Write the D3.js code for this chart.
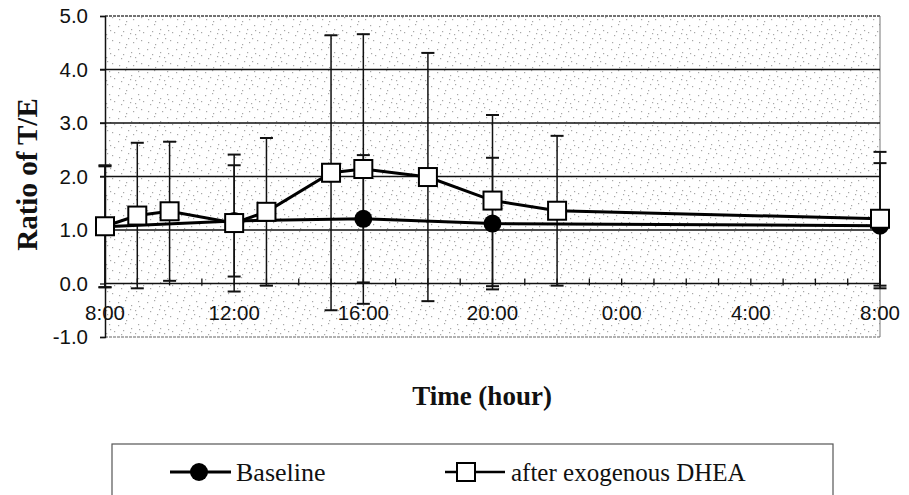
<!DOCTYPE html>
<html>
<head>
<meta charset="utf-8">
<script src="https://cdn.jsdelivr.net/npm/d3@7"></script>
<style>
  html, body { margin: 0; padding: 0; background: #ffffff; }
  svg { display: block; }
</style>
</head>
<body>
<svg id="chart" width="909" height="495"></svg>
<script>
// ---- data ----
const baselineHours = [8, 12, 16, 20, 32];
const baselineMean  = [1.06, 1.17, 1.21, 1.12, 1.08];
const baselineSD    = [1.13, 1.04, 1.19, 1.23, 1.17];

const dheaHours = [8, 9, 10, 12, 13, 15, 16, 18, 20, 22, 32];
const dheaMean  = [1.07, 1.27, 1.35, 1.13, 1.34, 2.07, 2.14, 1.99, 1.55, 1.36, 1.21];
const dheaSD    = [1.14, 1.36, 1.30, 1.28, 1.38, 2.57, 2.52, 2.32, 1.60, 1.40, 1.25];

const xTickHours  = [8, 12, 16, 20, 24, 28, 32];
const xTickLabels = ["8:00", "12:00", "16:00", "20:00", "0:00", "4:00", "8:00"];
const minorHours  = d3.range(8, 33, 1);
const yTicks      = [-1, 0, 1, 2, 3, 4, 5];
const yTickLabels = ["-1.0", "0.0", "1.0", "2.0", "3.0", "4.0", "5.0"];
const gridValues  = [1, 2, 3, 4];
const seriesNames = ["Baseline", "after exogenous DHEA"];
const yTitle = "Ratio of T/E";
const xTitle = "Time (hour)";

// ---- layout ----
const svg = d3.select("#chart");
const L = 105, R = 880, T = 16, B = 337;
const x = d3.scaleLinear().domain([8, 32]).range([L, R]);
const y = d3.scaleLinear().domain([-1, 5]).range([B, T]);

// speckle texture pattern (decorative)
const defs = svg.append("defs");
const pat = defs.append("pattern").attr("id", "speck")
  .attr("patternUnits", "userSpaceOnUse").attr("width", 29).attr("height", 23);
pat.append("rect").attr("width", 29).attr("height", 23).attr("fill", "#ffffff");
const dots = [[2,3],[9,1],[15,6],[22,2],[27,9],[5,12],[12,15],[19,11],[25,17],[3,19],[10,21],[17,19],[23,7],[7,8],[14,10],[20,15]];
pat.selectAll("rect.d").data(dots).enter().append("rect").attr("class","d")
  .attr("x", d => d[0]).attr("y", d => d[1]).attr("width", 1.2).attr("height", 1.2)
  .attr("fill", "#a8a8a8");

svg.append("rect").attr("x", L).attr("y", T).attr("width", R - L).attr("height", B - T)
  .attr("fill", "url(#speck)");

// plot border
svg.append("line").attr("x1", L).attr("x2", R).attr("y1", T).attr("y2", T)
  .attr("stroke", "#444").attr("stroke-width", 1.5).attr("stroke-dasharray", "3,1");
svg.append("line").attr("x1", L).attr("x2", R).attr("y1", B).attr("y2", B)
  .attr("stroke", "#666").attr("stroke-width", 1.2).attr("stroke-dasharray", "3,1");
svg.append("line").attr("x1", R).attr("x2", R).attr("y1", T).attr("y2", B)
  .attr("stroke", "#777").attr("stroke-width", 1);

// gridlines
svg.selectAll("line.grid").data(gridValues).enter().append("line").attr("class", "grid")
  .attr("x1", L - 5).attr("x2", R).attr("y1", d => y(d)).attr("y2", d => y(d))
  .attr("stroke", "#111").attr("stroke-width", 1.3);

// y axis
const yAxis = d3.axisLeft(y).tickValues(yTicks)
  .tickFormat((d, i) => yTickLabels[i]).tickSize(5).tickPadding(12);
const gy = svg.append("g").attr("transform", `translate(${L},0)`).call(yAxis);
gy.select(".domain").attr("stroke", "#111").attr("stroke-width", 1.5);
gy.selectAll(".tick line").attr("stroke", "#111").attr("stroke-width", 1.3);
gy.selectAll(".tick text").attr("font-family", "Arial, 'Liberation Sans', sans-serif")
  .attr("font-size", 20.5).attr("fill", "#111");

// x axis line at 0 with hourly tick marks
svg.append("line").attr("x1", L).attr("x2", R).attr("y1", y(0)).attr("y2", y(0))
  .attr("stroke", "#111").attr("stroke-width", 1.5);
svg.selectAll("line.xminor").data(minorHours).enter().append("line").attr("class", "xminor")
  .attr("x1", d => x(d)).attr("x2", d => x(d))
  .attr("y1", y(0) - 5).attr("y2", y(0) + 2)
  .attr("stroke", "#111").attr("stroke-width", 1.3);
svg.selectAll("text.xlab").data(xTickHours).enter().append("text").attr("class", "xlab")
  .attr("x", d => x(d)).attr("y", y(0) + 36)
  .attr("text-anchor", "middle")
  .attr("font-family", "Arial, 'Liberation Sans', sans-serif").attr("font-size", 20.5)
  .attr("fill", "#111")
  .text((d, i) => xTickLabels[i]);

// error bars
function errBars(hours, mean, sd, cls) {
  const data = hours.map((h, i) => ({h, m: mean[i], s: sd[i]}));
  const g = svg.append("g").attr("class", cls);
  g.selectAll("line.v").data(data).enter().append("line").attr("class", "v")
    .attr("x1", d => x(d.h)).attr("x2", d => x(d.h))
    .attr("y1", d => y(d.m + d.s)).attr("y2", d => y(d.m - d.s))
    .attr("stroke", "#111").attr("stroke-width", 1.5);
  ["top", "bot"].forEach(k => {
    g.selectAll("line." + k).data(data).enter().append("line").attr("class", k)
      .attr("x1", d => x(d.h) - 6.5).attr("x2", d => x(d.h) + 6.5)
      .attr("y1", d => y(k === "top" ? d.m + d.s : d.m - d.s))
      .attr("y2", d => y(k === "top" ? d.m + d.s : d.m - d.s))
      .attr("stroke", "#111").attr("stroke-width", 2);
  });
}
errBars(baselineHours, baselineMean, baselineSD, "eb-base");
errBars(dheaHours, dheaMean, dheaSD, "eb-dhea");

// lines
const lineGen = d3.line().x(d => x(d[0])).y(d => y(d[1]));
svg.append("path").datum(baselineHours.map((h, i) => [h, baselineMean[i]]))
  .attr("d", lineGen).attr("fill", "none").attr("stroke", "#000").attr("stroke-width", 3);
svg.append("path").datum(dheaHours.map((h, i) => [h, dheaMean[i]]))
  .attr("d", lineGen).attr("fill", "none").attr("stroke", "#000").attr("stroke-width", 3);

// markers
svg.selectAll("circle.base").data(baselineHours.map((h, i) => [h, baselineMean[i]]))
  .enter().append("circle").attr("class", "base")
  .attr("cx", d => x(d[0])).attr("cy", d => y(d[1])).attr("r", 9).attr("fill", "#000");
const S = 18;
svg.selectAll("rect.dhea").data(dheaHours.map((h, i) => [h, dheaMean[i]]))
  .enter().append("rect").attr("class", "dhea")
  .attr("x", d => x(d[0]) - S / 2).attr("y", d => y(d[1]) - S / 2)
  .attr("width", S).attr("height", S)
  .attr("fill", "#fff").attr("stroke", "#000").attr("stroke-width", 2);

// axis titles
svg.append("text").attr("transform", `translate(37,${(T + B) / 2 - 2}) rotate(-90)`)
  .attr("text-anchor", "middle")
  .attr("font-family", "'Times New Roman', 'Liberation Serif', serif")
  .attr("font-weight", "bold").attr("font-size", 29).attr("fill", "#111")
  .text(yTitle);
svg.append("text").attr("x", 482).attr("y", 405).attr("text-anchor", "middle")
  .attr("font-family", "'Times New Roman', 'Liberation Serif', serif")
  .attr("font-weight", "bold").attr("font-size", 27).attr("fill", "#111")
  .text(xTitle);

// legend
const lg = svg.append("g");
lg.append("rect").attr("x", 112).attr("y", 444).attr("width", 721).attr("height", 80)
  .attr("fill", "#fff").attr("stroke", "#555").attr("stroke-width", 1.2);
const ly = 472;
// baseline entry
lg.append("line").attr("x1", 170).attr("x2", 231).attr("y1", ly).attr("y2", ly)
  .attr("stroke", "#000").attr("stroke-width", 3);
lg.append("circle").attr("cx", 199).attr("cy", ly).attr("r", 9).attr("fill", "#000");
lg.append("text").attr("x", 236).attr("y", ly + 9)
  .attr("font-family", "'Times New Roman', 'Liberation Serif', serif")
  .attr("font-size", 26).attr("fill", "#111").text(seriesNames[0]);
// dhea entry
lg.append("line").attr("x1", 445).attr("x2", 505).attr("y1", ly).attr("y2", ly)
  .attr("stroke", "#000").attr("stroke-width", 2.5);
lg.append("rect").attr("x", 466 - S / 2).attr("y", ly - S / 2).attr("width", S).attr("height", S)
  .attr("fill", "#fff").attr("stroke", "#000").attr("stroke-width", 2);
lg.append("text").attr("x", 511).attr("y", ly + 9)
  .attr("font-family", "'Times New Roman', 'Liberation Serif', serif")
  .attr("font-size", 25).attr("fill", "#111").text(seriesNames[1]);
</script>
</body>
</html>
